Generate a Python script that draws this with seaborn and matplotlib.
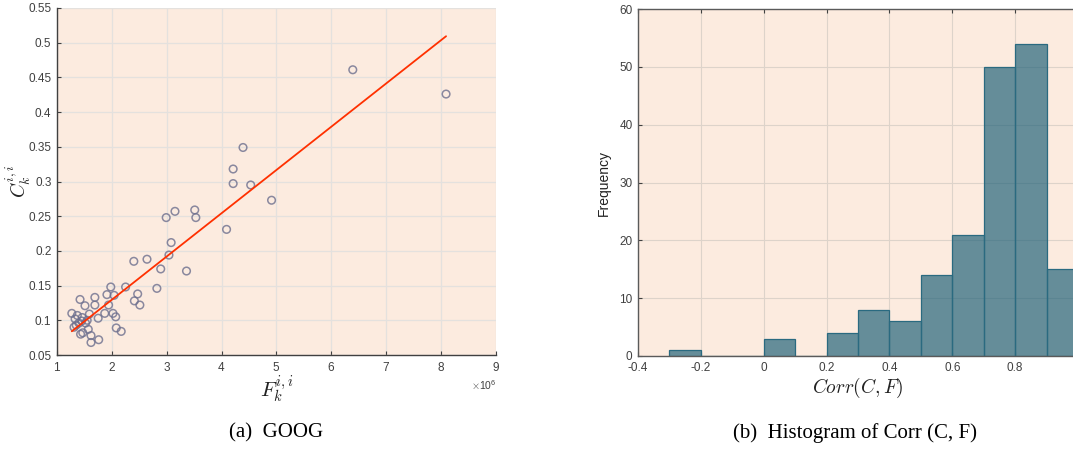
import numpy as np
import pandas as pd
import matplotlib
matplotlib.use("Agg")
import matplotlib.pyplot as plt
import matplotlib.ticker as mticker
import seaborn as sns

# Scatter data: F_k^{i,i} (in millions) and C_k^{i,i}
F_millions = [8.09, 6.39, 4.39, 4.21, 4.21, 4.53, 4.91, 4.09, 3.51, 3.53,
              3.15, 2.99, 3.08, 3.04, 2.40, 2.64, 2.89, 3.36, 2.82, 1.98,
              2.25, 1.91, 2.04, 2.47, 2.41, 2.51, 1.42, 1.69, 1.69, 1.51,
              1.94, 1.27, 1.37, 1.33, 1.46, 1.59, 1.75, 1.87, 2.02, 2.07,
              1.31, 1.40, 1.45, 1.52, 1.57, 1.35, 2.08, 2.17, 1.43, 1.47,
              1.62, 1.62, 1.76, 1.55]
C_values = [0.426, 0.461, 0.349, 0.318, 0.297, 0.295, 0.273, 0.231, 0.259, 0.248,
            0.257, 0.248, 0.212, 0.194, 0.185, 0.188, 0.174, 0.171, 0.146, 0.148,
            0.148, 0.137, 0.136, 0.138, 0.128, 0.122, 0.130, 0.133, 0.122, 0.121,
            0.122, 0.110, 0.107, 0.102, 0.104, 0.109, 0.103, 0.110, 0.110, 0.105,
            0.090, 0.096, 0.099, 0.096, 0.087, 0.093, 0.089, 0.084, 0.080, 0.082,
            0.078, 0.068, 0.072, 0.100]

# Histogram of Corr(C, F): counts per bin of width 0.1 starting at -0.3
bin_start = -0.3
bin_width = 0.1
hist_counts = [1, 0, 0, 3, 0, 4, 8, 6, 14, 21, 50, 54, 15]

x_ticks_left = [1, 2, 3, 4, 5, 6, 7, 8, 9]
y_ticks_left = [0.05, 0.1, 0.15, 0.2, 0.25, 0.3, 0.35, 0.4, 0.45, 0.5, 0.55]
x_ticks_right = [-0.4, -0.2, 0, 0.2, 0.4, 0.6, 0.8]
y_ticks_right = [0, 10, 20, 30, 40, 50, 60]

sns.set_theme(style="white")
plt.rcParams["font.family"] = ["Liberation Sans", "DejaVu Sans"]
plt.rcParams["mathtext.fontset"] = "cm"
plt.rcParams["axes.unicode_minus"] = False

BG = "#FCEBDF"
AXC = "#404040"

fig = plt.figure(figsize=(10.73, 4.51), dpi=100)
W, H = 1073, 451
ax1 = fig.add_axes([57 / W, 96 / H, 439 / W, 347 / H])
ax2 = fig.add_axes([638 / W, 95 / H, 440 / W, 347 / H])

# ---- (a) scatter with least-squares line ----
scatter_df = pd.DataFrame({"F": np.array(F_millions) * 1e6, "C": C_values})
ax1.set_facecolor(BG)
sns.regplot(data=scatter_df, x="F", y="C", ax=ax1, ci=None, truncate=True,
            scatter_kws=dict(facecolors="none", edgecolors="#6D6F8E",
                             s=30, linewidths=1.1, zorder=3),
            line_kws=dict(color="#FF3000", lw=1.3, zorder=4))
ax1.set_xlim(1e6, 9e6)
ax1.set_ylim(0.05, 0.55)
ax1.set_xticks(np.array(x_ticks_left) * 1e6)
ax1.set_yticks(y_ticks_left)
ax1.ticklabel_format(axis="x", style="sci", scilimits=(6, 6), useMathText=True)
ax1.yaxis.set_major_formatter(mticker.FuncFormatter(lambda v, p: f"{v:g}"))
ax1.grid(True, color="#E4E1DE", lw=0.9)
ax1.set_axisbelow(True)
for s in ["top", "right"]:
    ax1.spines[s].set_visible(False)
for s in ["left", "bottom"]:
    ax1.spines[s].set_color(AXC)
    ax1.spines[s].set_linewidth(1.0)
ax1.tick_params(direction="in", length=3, width=0.8, colors=AXC,
                labelsize=8.5, pad=4, bottom=True, left=True)
ax1.xaxis.get_offset_text().set_fontsize(7.5)
ax1.xaxis.get_offset_text().set_color(AXC)
ax1.set_xlabel(r"$F_k^{i,i}$", fontsize=15, color="#222222", labelpad=0)
ax1.set_ylabel(r"$C_k^{i,i}$", fontsize=14, color="#222222")
ax1.yaxis.set_label_coords(-0.054, 0.5)

# ---- (b) histogram ----
edges = (bin_start + bin_width * np.arange(len(hist_counts) + 1)).round(2).tolist()
hist_df = pd.DataFrame({"corr": [(a + b) / 2 for a, b in zip(edges[:-1], edges[1:])],
                        "count": hist_counts})
ax2.set_facecolor(BG)
sns.histplot(data=hist_df, x="corr", weights="count", bins=edges, ax=ax2,
             color="#1E6178", alpha=0.68, edgecolor="#2A6A80", linewidth=0.9)
ax2.set_xlim(-0.4, 1.0)
ax2.set_ylim(0, 60)
ax2.set_xticks(x_ticks_right)
ax2.set_yticks(y_ticks_right)
ax2.xaxis.set_major_formatter(mticker.FuncFormatter(lambda v, p: f"{v:g}"))
ax2.grid(True, color="#DDD3CA", lw=0.8)
ax2.set_axisbelow(True)
for s in ["left", "bottom", "top"]:
    ax2.spines[s].set_color("#5A5A5A")
    ax2.spines[s].set_linewidth(1.0)
ax2.tick_params(direction="in", length=3, width=0.8, colors=AXC,
                labelsize=8.5, pad=3, bottom=True, top=True, left=True)
ax2.tick_params(axis="x", pad=4.5)
ax2.tick_params(axis="y", pad=4)
ax2.set_xlabel(r"$Corr(C,F)$", fontsize=14, color="#222222", labelpad=1)
ax2.set_ylabel("Frequency", fontsize=10, color="#222222", labelpad=6)

# ---- captions ----
fig.text(276 / W, 1 - 433 / H, "(a)  GOOG", ha="center", va="center",
         fontsize=15, family="Liberation Serif", color="black")
fig.text(855 / W, 1 - 433 / H, "(b)  Histogram of Corr (C, F)", ha="center",
         va="center", fontsize=15, family="Liberation Serif", color="black")

fig.savefig("out.png", dpi=100, facecolor="white")
